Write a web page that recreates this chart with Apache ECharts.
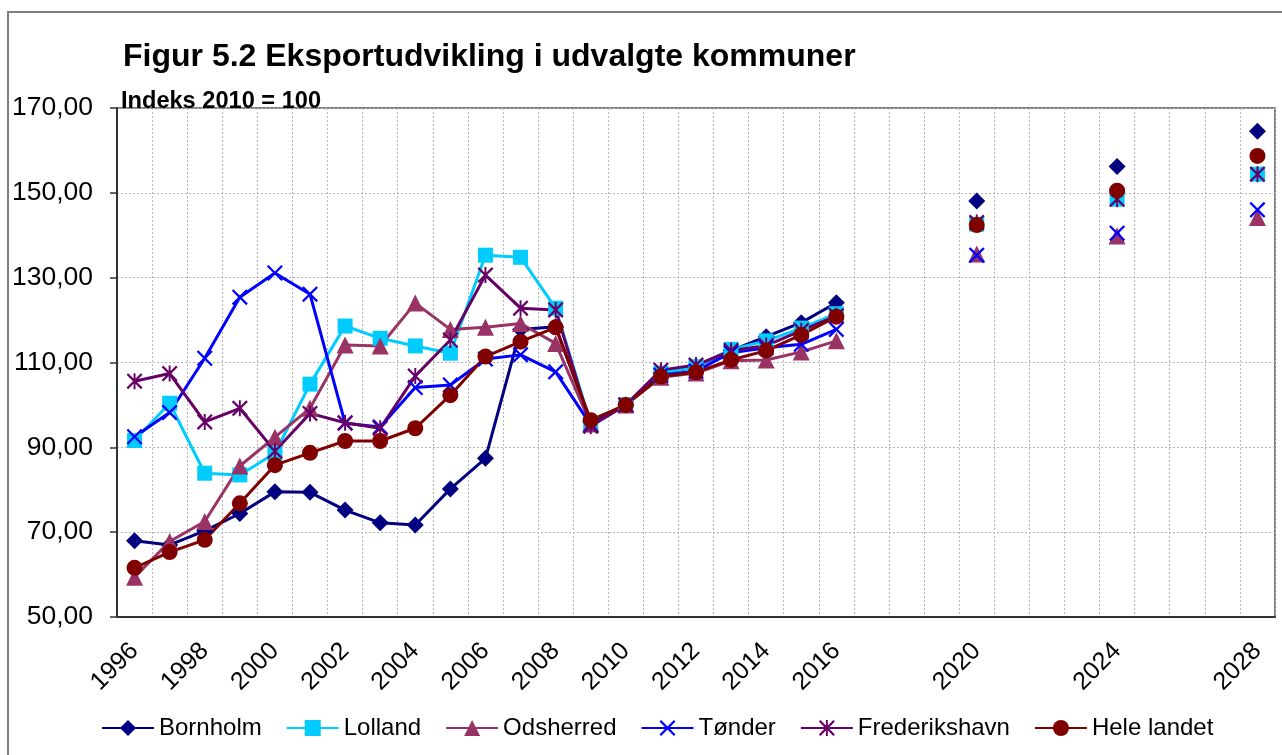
<!DOCTYPE html>
<html>
<head>
<meta charset="utf-8">
<script src="https://cdn.jsdelivr.net/npm/echarts@6/dist/echarts.min.js"></script>
<style>
html, body { margin: 0; padding: 0; background: #fff; }
#chart { width: 1282px; height: 755px; }
</style>
</head>
<body>
<div id="chart"></div>
<script>
// år på x-aksen
var histYears = [1996, 1997, 1998, 1999, 2000, 2001, 2002, 2003, 2004, 2005, 2006,
                 2007, 2008, 2009, 2010, 2011, 2012, 2013, 2014, 2015, 2016];
var forecastYears = [2020, 2024, 2028];
var labelYears = [1996, 1998, 2000, 2002, 2004, 2006, 2008, 2010, 2012, 2014, 2016, 2020, 2024, 2028];

// indeks 2010 = 100
var bornholm      = [68.0, 67.0, 70.3, 74.4, 79.5, 79.4, 75.2, 72.2, 71.7, 80.2, 87.4, 117.8, 118.4, 96.0, 100, 107.5, 109.0, 112.8, 116.1, 119.4, 124.1];
var lolland       = [91.6, 100.4, 83.9, 83.5, 88.6, 104.9, 118.6, 115.7, 113.9, 112.2, 135.3, 134.8, 122.8, 95.5, 100, 107.5, 109.0, 113.1, 115.1, 118.1, 121.5];
var odsherred     = [59.4, 67.8, 72.5, 85.6, 92.4, 99.2, 114.1, 113.9, 124.0, 117.8, 118.3, 119.2, 114.5, 95.5, 100, 106.5, 107.5, 110.4, 110.6, 112.5, 115.1];
var tonder        = [92.5, 98.2, 111.0, 125.4, 131.1, 126.1, 95.7, 94.8, 104.1, 104.7, 110.8, 111.8, 107.8, 95.3, 100, 107.0, 108.0, 112.3, 113.5, 114.3, 117.8];
var frederikshavn = [105.6, 107.4, 96.0, 99.2, 89.1, 98.0, 95.8, 94.5, 106.8, 115.3, 130.6, 122.8, 122.4, 95.0, 100, 108.2, 109.4, 112.8, 114.0, 117.5, 121.0];
var heleLandet    = [61.6, 65.3, 68.2, 76.8, 85.8, 88.7, 91.5, 91.5, 94.5, 102.3, 111.4, 114.9, 118.3, 96.4, 100, 106.7, 107.7, 110.6, 112.8, 116.5, 120.8];

// fremskrivning 2020, 2024, 2028
var bornholmF      = [148.1, 156.2, 164.5];
var lollandF       = [142.6, 148.5, 154.4];
var odsherredF     = [135.6, 139.8, 144.2];
var tonderF        = [135.3, 140.5, 146.0];
var frederikshavnF = [143.0, 148.5, 154.4];
var heleLandetF    = [142.4, 150.5, 158.7];

var years = [];
for (var y = histYears[0]; y <= forecastYears[forecastYears.length - 1]; y++) years.push(String(y));

function fullSeries(hist, fc) {
  return years.map(function (yr) {
    var i = histYears.indexOf(+yr);
    if (i >= 0) return hist[i];
    var j = forecastYears.indexOf(+yr);
    return j >= 0 ? fc[j] : null;
  });
}

var FONT = '"Liberation Sans", Arial, sans-serif';
var crossPath = 'path://M0,1L1,0L5,4L9,0L10,1L6,5L10,9L9,10L5,6L1,10L0,9L4,5Z';
var starPath = 'path://M0,1L1,0L5,4L9,0L10,1L6,5L10,9L9,10L5,6L1,10L0,9L4,5Z M4.4,0L5.6,0L5.6,10L4.4,10Z';

function mk(name, hist, fc, color, symbol, size) {
  return {
    name: name,
    type: 'line',
    data: fullSeries(hist, fc),
    connectNulls: false,
    showAllSymbol: true,
    symbol: symbol,
    symbolSize: size,
    lineStyle: { color: color, width: 3 },
    itemStyle: { color: color },
    emphasis: { disabled: true },
    animation: false
  };
}

var myChart = echarts.init(document.getElementById('chart'));
var option = {
  animation: false,
  title: [
    { text: 'Figur 5.2 Eksportudvikling i udvalgte kommuner', left: 118, top: 36,
      textStyle: { fontFamily: FONT, fontSize: 32, fontWeight: 'bold', color: '#000' } },
    { text: 'Indeks 2010 = 100', left: 116, top: 84,
      textStyle: { fontFamily: FONT, fontSize: 23.6, fontWeight: 'bold', color: '#000' } }
  ],
  graphic: [
    { type: 'rect', shape: { x: 8, y: 12, width: 1300, height: 760 },
      style: { fill: 'none', stroke: '#808080', lineWidth: 2 }, silent: true }
  ],
  grid: {
    left: 117, right: 7, top: 108, bottom: 138,
    show: true, borderColor: '#808080', borderWidth: 2
  },
  legend: {
    left: 96, top: 711,
    itemWidth: 52, itemHeight: 20, itemGap: 24,
    textStyle: { fontFamily: FONT, fontSize: 24, color: '#000' },
    selectedMode: false
  },
  xAxis: {
    type: 'category',
    data: years,
    boundaryGap: true,
    axisLine: { lineStyle: { color: '#333', width: 2 } },
    axisTick: { interval: 0, length: 7, lineStyle: { color: '#333', width: 1.5 } },
    splitLine: { show: true, interval: 0, lineStyle: { color: '#b4b4b4', type: [2, 2], width: 1 } },
    axisLabel: {
      interval: function (idx, val) { return labelYears.indexOf(+val) >= 0; },
      rotate: 45, margin: 30,
      fontFamily: FONT, fontSize: 25, color: '#000'
    }
  },
  yAxis: {
    type: 'value',
    min: 50, max: 170, interval: 20,
    axisLine: { show: true, lineStyle: { color: '#333', width: 2 } },
    axisTick: { show: true, length: 7, lineStyle: { color: '#333', width: 1.5 } },
    splitLine: { show: true, lineStyle: { color: '#b4b4b4', type: [2, 2], width: 1 } },
    axisLabel: {
      margin: 24, fontFamily: FONT, fontSize: 26.5, color: '#000',
      formatter: function (v) { return v.toFixed(2).replace('.', ','); }
    }
  },
  series: [
    mk('Bornholm', bornholm, bornholmF, '#000080', 'diamond', 17),
    mk('Lolland', lolland, lollandF, '#00CCFF', 'rect', 15),
    mk('Odsherred', odsherred, odsherredF, '#993366', 'triangle', 17),
    mk('Tønder', tonder, tonderF, '#0000FF', crossPath, 16),
    mk('Frederikshavn', frederikshavn, frederikshavnF, '#660066', starPath, 16),
    mk('Hele landet', heleLandet, heleLandetF, '#800000', 'circle', 16)
  ]
};
myChart.setOption(option);
</script>
</body>
</html>
